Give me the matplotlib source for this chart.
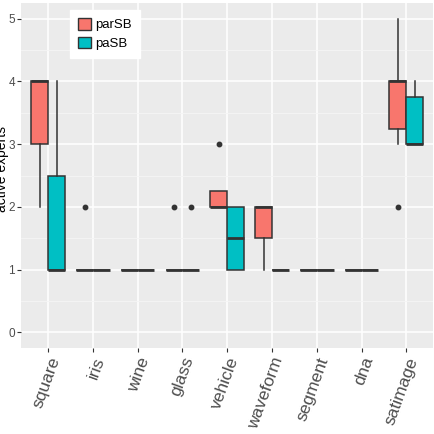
import matplotlib.pyplot as plt
from matplotlib.patches import Patch
import numpy as np

plt.rcParams['font.family'] = ['Liberation Sans', 'DejaVu Sans']

datasets = ["square", "iris", "wine", "glass", "vehicle", "waveform", "segment", "dna", "satimage"]
methods = ["parSB", "paSB"]
colors = ["#F8766D", "#00BFC4"]

# box summaries per method, one value per dataset
par_q1 = [3, 1, 1, 1, 2, 1.5, 1, 1, 3.25]
par_med = [4, 1, 1, 1, 2, 2, 1, 1, 4]
par_q3 = [4, 1, 1, 1, 2.25, 2, 1, 1, 4]
par_lo = [2, 1, 1, 1, 2, 1, 1, 1, 3]
par_hi = [4, 1, 1, 1, 2.25, 2, 1, 1, 5]
par_out = [[], [2], [], [2], [3], [], [], [], [2]]

pa_q1 = [1, 1, 1, 1, 1, 1, 1, 1, 3]
pa_med = [1, 1, 1, 1, 1.5, 1, 1, 1, 3]
pa_q3 = [2.5, 1, 1, 1, 2, 1, 1, 1, 3.75]
pa_lo = [1, 1, 1, 1, 1, 1, 1, 1, 3]
pa_hi = [4, 1, 1, 1, 2, 1, 1, 1, 4]
pa_out = [[], [], [], [2], [], [], [], [], []]


def make_stats(q1, med, q3, lo, hi, out):
    return [dict(q1=a, med=b, q3=c, whislo=d, whishi=e, fliers=f)
            for a, b, c, d, e, f in zip(q1, med, q3, lo, hi, out)]


fig = plt.figure(figsize=(4.34, 4.34), dpi=100)
ax = fig.add_axes([0.049, 0.198, 0.949, 0.795])
ax.set_facecolor("#EBEBEB")

x = np.arange(1, len(datasets) + 1)
all_stats = [make_stats(par_q1, par_med, par_q3, par_lo, par_hi, par_out),
             make_stats(pa_q1, pa_med, pa_q3, pa_lo, pa_hi, pa_out)]
offsets = [-0.1875, 0.1875]

for stats, off, col in zip(all_stats, offsets, colors):
    ax.bxp(stats, positions=x + off, widths=0.375, patch_artist=True,
           showcaps=False, manage_ticks=False,
           boxprops=dict(facecolor=col, edgecolor="#333333", linewidth=1.1),
           medianprops=dict(color="#333333", linewidth=2.0),
           whiskerprops=dict(color="#333333", linewidth=1.1),
           flierprops=dict(marker="o", markersize=3.2, markerfacecolor="#333333",
                           markeredgecolor="#333333"),
           zorder=3)

ax.set_xlim(0.4, 9.6)
ax.set_ylim(-0.25, 5.25)
ax.set_yticks(range(6))
ax.set_yticks(np.arange(0.5, 5, 1), minor=True)
ax.set_xticks(x)
ax.set_xticklabels(datasets, rotation=70, ha="right", va="top",
                   rotation_mode="anchor", fontsize=12.5, color="#4D4D4D")
ax.tick_params(axis="y", labelsize=8.5, labelcolor="#4D4D4D", length=3, color="#333333", pad=1.5)
ax.tick_params(axis="y", which="minor", length=0)
ax.tick_params(axis="x", length=3, color="#333333", pad=2)
ax.grid(True, which="major", color="white", linewidth=1.1, zorder=0)
ax.grid(True, which="minor", axis="y", color="#F5F5F5", linewidth=0.6, zorder=0)
ax.set_axisbelow(True)
for s in ax.spines.values():
    s.set_visible(False)

# axis title sits partly outside the left edge, as in the original
fig.text(0.004, 0.61, "active experts", rotation=90, ha="center", va="center", fontsize=10)

handles = [Patch(facecolor=c, edgecolor="#333333", label=m) for m, c in zip(methods, colors)]
leg = ax.legend(handles=handles, loc="upper left", bbox_to_anchor=(0.119, 0.98),
                frameon=True, fancybox=False, framealpha=1, edgecolor="white",
                fontsize=9.5, handlelength=1.0, handleheight=1.0, handletextpad=0.3,
                borderpad=0.6, labelspacing=0.4, borderaxespad=0)

fig.savefig("out.png", dpi=100)
